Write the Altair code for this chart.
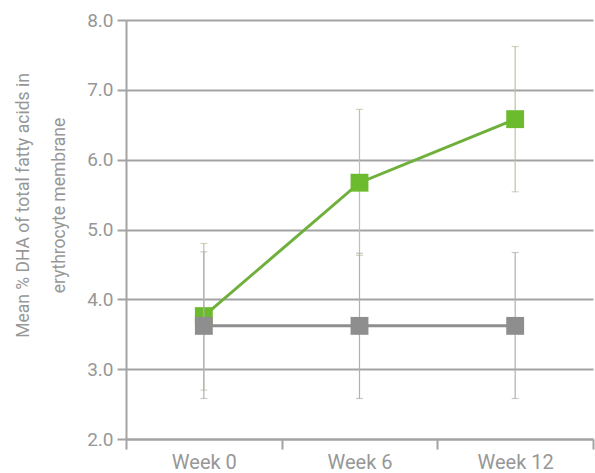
import altair as alt
import pandas as pd

# Visit labels and group statistics (mean with lower/upper error bounds)
weeks = ["Week 0", "Week 6", "Week 12"]
dha_mean = [3.76, 5.67, 6.58]
dha_low = [2.70, 4.63, 5.54]
dha_high = [4.80, 6.72, 7.62]
ctrl_mean = [3.62, 3.62, 3.62]
ctrl_low = [2.58, 2.58, 2.58]
ctrl_high = [4.68, 4.66, 4.67]

# Major ticks at whole units, short minor ticks at the halves
y_ticks = [2, 2.5, 3, 3.5, 4, 4.5, 5, 5.5, 6, 6.5, 7, 7.5, 8]

dha = pd.DataFrame({"week": weeks, "mean": dha_mean, "low": dha_low, "high": dha_high})
ctrl = pd.DataFrame({"week": weeks, "mean": ctrl_mean, "low": ctrl_low, "high": ctrl_high})

GREEN = "#6cba2e"
GREEN_LINE = "#6fb03c"
GREY = "#8e8e8e"
AXIS_GREY = "#a3a3a3"
TEXT_GREY = "#979797"

is_major = "datum.value % 1 == 0"

x_enc = alt.X(
    "week:N",
    sort=weeks,
    scale=alt.Scale(paddingInner=0, paddingOuter=0),
    axis=alt.Axis(
        title=None,
        tickBand="extent",
        tickSize=10,
        tickWidth=2,
        tickColor=AXIS_GREY,
        domainColor=AXIS_GREY,
        domainWidth=2,
        labelFontSize=20,
        labelColor=TEXT_GREY,
        labelPadding=3,
        labelAngle=0,
        labelFont="Roboto",
        labelFontWeight=400,
    ),
)

y_scale = alt.Scale(domain=[2, 8], nice=False, zero=False)

y_axis = alt.Axis(
    values=y_ticks,
    format=".1f",
    labelExpr=f"{is_major} ? datum.label : ''",
    grid=True,
    gridColor=AXIS_GREY,
    gridWidth=2,
    gridOpacity={"condition": {"test": is_major, "value": 1}, "value": 0},
    tickSize={"condition": {"test": is_major, "value": 9}, "value": 5},
    tickWidth=2,
    tickColor=AXIS_GREY,
    domainColor=AXIS_GREY,
    domainWidth=2,
    labelFontSize=19,
    labelColor=TEXT_GREY,
    labelPadding=4,
    labelFont="Roboto",
    labelFontWeight=400,
    title=["Mean % DHA of total fatty acids in", "erythrocyte membrane"],
    titleFontSize=17.5,
    titleFont="Roboto",
    titleFontWeight=400,
    titleColor=TEXT_GREY,
    titleAngle=-90,
    titleAlign="center",
    titleBaseline="top",
    titleLineHeight=36,
    titleX=-112,
    titleY=185,
)


def series(df, err_color, line_color, marker_color, with_axis):
    base = alt.Chart(df).encode(x=x_enc)
    if with_axis:
        y_low = alt.Y("low:Q", scale=y_scale, axis=y_axis)
    else:
        y_low = alt.Y("low:Q", scale=y_scale)
    bars = base.mark_rule(color=err_color, strokeWidth=1.2).encode(y=y_low, y2="high:Q")
    cap_lo = base.mark_tick(color=err_color, thickness=1.2, size=7, orient="horizontal").encode(
        y=alt.Y("low:Q", scale=y_scale)
    )
    cap_hi = base.mark_tick(color=err_color, thickness=1.2, size=7, orient="horizontal").encode(
        y=alt.Y("high:Q", scale=y_scale)
    )
    line = base.mark_line(color=line_color, strokeWidth=3).encode(
        y=alt.Y("mean:Q", scale=y_scale)
    )
    pts = base.mark_square(color=marker_color, size=320, opacity=1).encode(
        y=alt.Y("mean:Q", scale=y_scale)
    )
    return [bars, cap_lo, cap_hi, line, pts]


layers = series(dha, "#b9c3a6", GREEN_LINE, GREEN, True) + series(
    ctrl, "#b0b0b0", GREY, GREY, False
)

chart = (
    alt.layer(*layers)
    .properties(
        width=467,
        height=419,
        autosize=alt.AutoSizeParams(type="none"),
        padding={"left": 126, "top": 20, "right": 2, "bottom": 34},
        background="white",
    )
    .configure_view(stroke=None)
)

chart.save("out.html", embed_options={"renderer": "svg", "actions": False})
